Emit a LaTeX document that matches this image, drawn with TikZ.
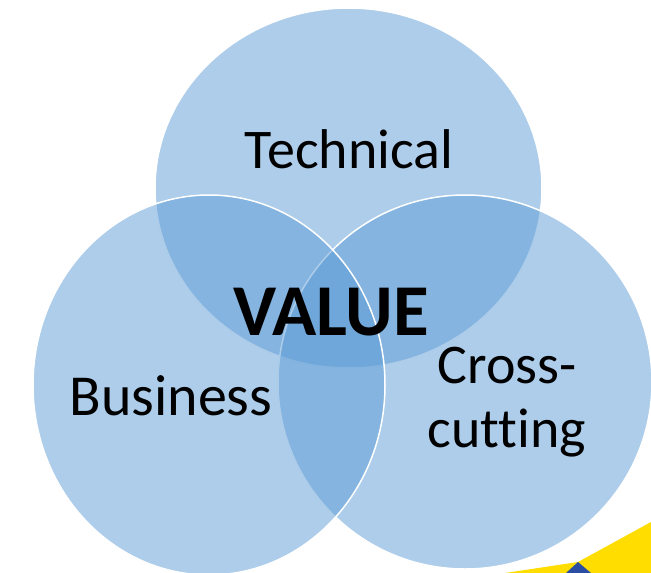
\documentclass[tikz,border=0pt]{standalone}
\usepackage{fontspec}
\setmainfont{Carlito}[Ligatures=NoCommon]
\definecolor{vennblue}{HTML}{5B9BD5}
\definecolor{logoyellow}{HTML}{FFDD00}
\definecolor{logoblue}{HTML}{2B4EA2}
\tikzset{
  venn/.style={fill=vennblue, fill opacity=0.5, draw=white, line width=1.5pt},
  lbl/.style={anchor=base, inner sep=0pt, font=\fontsize{56}{60}\selectfont},
}
\begin{document}
\begin{tikzpicture}[x=1pt,y=-1pt]
      \useasboundingbox (0,0) rectangle (651,573);
      % the three sets
      \draw[venn] (348.5,188) ellipse [x radius=193.5, y radius=180];
      \draw[venn] (465,382) ellipse [x radius=187, y radius=187];
      \draw[venn] (209,385) ellipse [x radius=176, y radius=190];
      % corner of the logo
      \fill[logoyellow] (651,522) -- (578,562) -- (505,573) -- (651,573) -- cycle;
      \fill[logoblue] (578,562) -- (566,573) -- (591,573) -- cycle;
      \draw
        (349,168) node[lbl] (technical){Technical}
        (171,415) node[lbl, font=\fontsize{58}{62}\selectfont] (business){Business}
        (507,383) node[lbl] (cross){Cross-}
        (507,447) node[lbl] (cutting){cutting}
        (331,335) node[lbl, font=\fontsize{73}{76}\selectfont\bfseries] (value){VALUE};
\end{tikzpicture}
\end{document}
